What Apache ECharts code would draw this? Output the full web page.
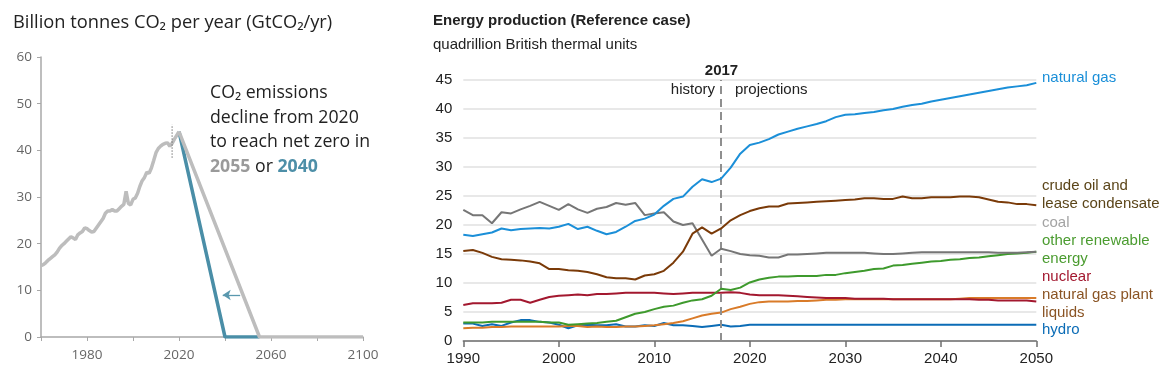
<!DOCTYPE html>
<html><head><meta charset="utf-8">
<script src="https://cdn.jsdelivr.net/npm/echarts@6/dist/echarts.min.js"></script>
<style>html,body{margin:0;padding:0;background:#fff}#c{width:1170px;height:384px}</style>
</head><body><div id="c"></div>
<script>
// ---------- Left panel: CO2 emissions ----------
const emissionYears = [];
for (let y = 1960; y <= 2020; y++) emissionYears.push(y);
const emissionValues = [
  15.3, 15.5, 15.9, 16.4, 16.8, 17.2, 17.6, 18.2, 19.0, 19.6,
  20.0, 20.5, 21.0, 21.5, 21.2, 20.9, 21.9, 22.3, 22.6, 23.4,
  23.2, 22.8, 22.5, 22.6, 23.3, 24.0, 24.7, 25.4, 26.5, 27.0,
  27.0, 27.3, 27.0, 27.0, 27.5, 28.0, 28.4, 31.2, 28.6, 28.3,
  29.5, 29.8, 30.8, 32.3, 33.5, 34.2, 35.3, 35.1, 36.2, 37.8,
  39.5, 40.4, 40.9, 41.3, 41.5, 41.6, 40.9, 41.5, 42.4, 43.2,
  44.0
];
const pathway2055 = [[2020, 44.0], [2055, 0], [2100, 0]];
const pathway2040 = [[2020, 44.0], [2040, 0], [2055, 0]];
const markerLine2017 = [[2017, 38.4], [2017, 45.5]];
const arrowFrom = [2046.6, 9];
const arrowTo = [2039, 9];

// ---------- Right panel: Energy production ----------
const energyYears = [];
for (let y = 1990; y <= 2050; y++) energyYears.push(y);
const naturalGas = [
  18.3, 18.1, 18.4, 18.7, 19.4, 19.1, 19.3, 19.4, 19.5, 19.4,
  19.7, 20.2, 19.3, 19.7, 19.0, 18.4, 18.8, 19.7, 20.7, 21.1,
  21.8, 23.3, 24.5, 24.9, 26.6, 27.9, 27.4, 28.0, 29.9, 32.3,
  33.8, 34.2, 34.8, 35.6, 36.1, 36.6, 37.0, 37.4, 37.9, 38.6,
  39.0, 39.1, 39.3, 39.5, 39.8, 40.0, 40.4, 40.7, 40.9, 41.3,
  41.6, 41.9, 42.2, 42.5, 42.8, 43.1, 43.4, 43.7, 43.9, 44.1, 44.5
];
const crudeOil = [
  15.5, 15.7, 15.2, 14.5, 14.1, 14.0, 13.9, 13.7, 13.4, 12.4,
  12.4, 12.2, 12.1, 11.9, 11.5, 11.0, 10.8, 10.8, 10.6, 11.3,
  11.5, 12.1, 13.5, 15.4, 18.5, 19.6, 18.5, 19.4, 20.8, 21.7,
  22.4, 22.9, 23.2, 23.2, 23.7, 23.8, 23.9, 24.0, 24.1, 24.2,
  24.3, 24.4, 24.6, 24.6, 24.5, 24.5, 24.9, 24.6, 24.6, 24.8,
  24.8, 24.8, 24.9, 24.9, 24.8, 24.4, 24.0, 23.9, 23.6, 23.6, 23.4
];
const coal = [
  22.6, 21.7, 21.7, 20.3, 22.2, 22.0, 22.7, 23.3, 24.0, 23.3,
  22.6, 23.6, 22.7, 22.1, 22.8, 23.1, 23.8, 23.5, 23.8, 21.7,
  22.0, 22.2, 20.6, 20.0, 20.3, 17.5, 14.7, 15.9, 15.5, 15.0,
  14.8, 14.7, 14.4, 14.4, 14.9, 14.9, 15.0, 15.1, 15.2, 15.2,
  15.2, 15.2, 15.2, 15.1, 15.0, 15.0, 15.1, 15.2, 15.3, 15.3,
  15.3, 15.3, 15.3, 15.3, 15.3, 15.3, 15.2, 15.2, 15.2, 15.3, 15.4
];
const otherRenewable = [
  3.2, 3.2, 3.2, 3.3, 3.3, 3.3, 3.3, 3.3, 3.3, 3.2,
  3.2, 2.8, 2.9, 3.0, 3.1, 3.3, 3.5, 4.1, 4.7, 5.0,
  5.5, 5.9, 6.1, 6.6, 7.0, 7.2, 7.8, 9.0, 8.8, 9.2,
  10.1, 10.6, 10.9, 11.1, 11.1, 11.2, 11.2, 11.2, 11.4, 11.4,
  11.7, 11.9, 12.1, 12.4, 12.5, 13.0, 13.1, 13.3, 13.5, 13.7,
  13.8, 14.0, 14.1, 14.3, 14.4, 14.6, 14.8, 15.0, 15.1, 15.2, 15.4
];
const nuclear = [
  6.2, 6.5, 6.5, 6.5, 6.6, 7.1, 7.1, 6.6, 7.1, 7.6,
  7.8, 7.9, 8.0, 7.9, 8.1, 8.1, 8.2, 8.3, 8.3, 8.3,
  8.3, 8.2, 8.1, 8.2, 8.3, 8.3, 8.3, 8.3, 8.4, 8.3,
  8.0, 7.9, 7.9, 7.9, 7.8, 7.7, 7.6, 7.5, 7.4, 7.4,
  7.4, 7.3, 7.3, 7.3, 7.3, 7.2, 7.2, 7.2, 7.2, 7.2,
  7.2, 7.2, 7.2, 7.2, 7.1, 7.1, 7.0, 7.0, 7.0, 7.0, 6.8
];
const ngPlantLiquids = [
  2.2, 2.3, 2.3, 2.4, 2.4, 2.5, 2.5, 2.5, 2.5, 2.5,
  2.5, 2.6, 2.6, 2.4, 2.5, 2.4, 2.4, 2.5, 2.5, 2.6,
  2.7, 2.9, 3.1, 3.4, 3.9, 4.4, 4.7, 4.9, 5.5, 5.9,
  6.4, 6.7, 6.8, 6.8, 6.8, 6.9, 6.9, 7.0, 7.1, 7.1,
  7.2, 7.2, 7.2, 7.2, 7.2, 7.2, 7.2, 7.2, 7.2, 7.2,
  7.2, 7.2, 7.3, 7.4, 7.4, 7.4, 7.4, 7.4, 7.4, 7.4, 7.4
];
const hydro = [
  3.0, 3.0, 2.6, 2.9, 2.6, 3.2, 3.6, 3.6, 3.3, 3.2,
  2.8, 2.2, 2.7, 2.8, 2.7, 2.7, 2.9, 2.5, 2.5, 2.7,
  2.6, 3.1, 2.7, 2.7, 2.6, 2.4, 2.6, 2.8, 2.5, 2.6,
  2.8, 2.8, 2.8, 2.8, 2.8, 2.8, 2.8, 2.8, 2.8, 2.8,
  2.8, 2.8, 2.8, 2.8, 2.8, 2.8, 2.8, 2.8, 2.8, 2.8,
  2.8, 2.8, 2.8, 2.8, 2.8, 2.8, 2.8, 2.8, 2.8, 2.8, 2.8
];
const dividerYear = 2017;

const leftXTicks = { min: 1960, max: 2100, interval: 20 };
const leftYTicks = { min: 0, max: 60, interval: 10 };
const rightXTicks = { min: 1990, max: 2050, interval: 10 };
const rightYTicks = { min: 0, max: 45, interval: 5 };

const energySeries = [
  { name: 'hydro', values: hydro, color: '#0b6cb6', label: ['hydro'], labelColor: '#0b6cb6', labelY: [330] },
  { name: 'natural gas plant liquids', values: ngPlantLiquids, color: '#d97b29', label: ['natural gas plant', 'liquids'], labelColor: '#8a5424', labelY: [295, 313] },
  { name: 'nuclear', values: nuclear, color: '#a3182f', label: ['nuclear'], labelColor: '#a3182f', labelY: [277] },
  { name: 'other renewable energy', values: otherRenewable, color: '#3e9a2d', label: ['other renewable', 'energy'], labelColor: '#4b9c30', labelY: [241, 259] },
  { name: 'coal', values: coal, color: '#767676', label: ['coal'], labelColor: '#a3a3a3', labelY: [223] },
  { name: 'crude oil and lease condensate', values: crudeOil, color: '#7a3a08', label: ['crude oil and', 'lease condensate'], labelColor: '#5b4519', labelY: [186, 204] },
  { name: 'natural gas', values: naturalGas, color: '#1b8fd8', label: ['natural gas'], labelColor: '#1b8fd8', labelY: [78] }
];

const chart = echarts.init(document.getElementById('c'), null, { renderer: 'canvas' });
const leftFont = '"Open Sans", "Noto Sans", sans-serif';
const rightFont = '"Liberation Sans", Arial, sans-serif';

const graphics = [
  { type: 'text', left: 13, top: 14, style: { text: 'Billion tonnes CO₂ per year (GtCO₂/yr)', font: '18.3px ' + leftFont, fill: '#222' } },
  { type: 'text', left: 210, top: 81, style: {
      text: 'CO₂ emissions\ndecline from 2020\nto reach net zero in\n{g|2055} or {b|2040}',
      font: '17.7px ' + leftFont, fill: '#222', lineHeight: 24.5,
      rich: { g: { font: 'bold 17.7px ' + leftFont, fill: '#9a9a9a', lineHeight: 24.5 }, b: { font: 'bold 17.7px ' + leftFont, fill: '#4d8fa8', lineHeight: 24.5 } }
  } },
  { type: 'text', left: 433, top: 13, style: { text: 'Energy production (Reference case)', font: 'bold 15px ' + rightFont, fill: '#222' } },
  { type: 'text', left: 433, top: 37, style: { text: 'quadrillion British thermal units', font: '15px ' + rightFont, fill: '#222' } },
  { type: 'text', x: 721.5, y: 71, style: { text: String(dividerYear), font: 'bold 15px ' + rightFont, fill: '#222', align: 'center', verticalAlign: 'middle' } },
  { type: 'text', x: 715, y: 90, style: { text: 'history', font: '15px ' + rightFont, fill: '#222', align: 'right', verticalAlign: 'middle' } },
  { type: 'text', x: 735, y: 90, style: { text: 'projections', font: '15px ' + rightFont, fill: '#222', align: 'left', verticalAlign: 'middle' } }
];
energySeries.forEach(s => {
  s.label.forEach((t, i) => {
    graphics.push({ type: 'text', x: 1042, y: s.labelY[i], style: { text: t, font: '15px ' + rightFont, fill: s.labelColor, align: 'left', verticalAlign: 'middle' } });
  });
});

const series = [
  { type: 'line', xAxisIndex: 0, yAxisIndex: 0, data: pathway2040, symbol: 'none', lineStyle: { color: '#4a8ea7', width: 3.5 }, z: 2, silent: true,
    markLine: { silent: true, symbol: ['none', 'arrow'], symbolSize: 8, label: { show: false },
      lineStyle: { color: '#5a98ae', width: 1.3, type: 'solid' }, emphasis: { disabled: true },
      data: [[{ coord: arrowFrom }, { coord: arrowTo }]] } },
  { type: 'line', xAxisIndex: 0, yAxisIndex: 0, data: pathway2055, symbol: 'none', lineStyle: { color: '#bdbdbd', width: 3.5 }, z: 3, silent: true },
  { type: 'line', xAxisIndex: 0, yAxisIndex: 0, data: emissionYears.map((y, i) => [y, emissionValues[i]]), symbol: 'none', lineStyle: { color: '#bdbdbd', width: 3.5 }, z: 4, silent: true },
  { type: 'line', xAxisIndex: 0, yAxisIndex: 0, data: markerLine2017, symbol: 'none', lineStyle: { color: '#777', width: 1, type: [1.5, 1.5] }, z: 5, silent: true }
];
energySeries.forEach((s, k) => {
  series.push({
    type: 'line', name: s.name, xAxisIndex: 1, yAxisIndex: 1,
    data: energyYears.map((y, i) => [y, s.values[i]]),
    symbol: 'none', lineStyle: { color: s.color, width: 2 }, z: 3 + k, silent: true,
    markLine: k === 0 ? { silent: true, symbol: 'none', label: { show: false },
      lineStyle: { color: '#8f8f8f', width: 2, type: [8, 5] },
      data: [{ xAxis: dividerYear }] } : undefined
  });
});

chart.setOption({
  animation: false,
  backgroundColor: '#fff',
  grid: [
    { left: 41, right: 1170 - 363, top: 57, bottom: 384 - 337, containLabel: false },
    { left: 463.3, right: 1170 - 1036.3, top: 80, bottom: 384 - 341, containLabel: false }
  ],
  xAxis: [
    { type: 'value', gridIndex: 0, min: leftXTicks.min, max: leftXTicks.max, interval: leftXTicks.interval,
      axisLine: { lineStyle: { color: '#a8a8a8', width: 1.5 } },
      axisTick: { show: true, length: 4, lineStyle: { color: '#a8a8a8', width: 1 } },
      axisLabel: { color: '#666', fontSize: 13.5, fontFamily: leftFont, margin: 11,
        formatter: v => ((v - 1980) % 40 === 0 ? String(v) : '') },
      splitLine: { show: false } },
    { type: 'value', gridIndex: 1, min: rightXTicks.min, max: rightXTicks.max, interval: rightXTicks.interval,
      axisLine: { lineStyle: { color: '#6f6f6f', width: 1.5 } },
      axisTick: { show: true, length: 6, lineStyle: { color: '#6f6f6f', width: 1.5 } },
      axisLabel: { color: '#222', fontSize: 15, fontFamily: rightFont, margin: 10, formatter: v => String(v) },
      splitLine: { show: false } }
  ],
  yAxis: [
    { type: 'value', gridIndex: 0, min: leftYTicks.min, max: leftYTicks.max, interval: leftYTicks.interval,
      axisLine: { show: true, lineStyle: { color: '#a8a8a8', width: 1.5 } },
      axisTick: { show: true, length: 4, lineStyle: { color: '#a8a8a8', width: 1 } },
      axisLabel: { color: '#666', fontSize: 13.5, fontFamily: leftFont, margin: 9 },
      splitLine: { show: false } },
    { type: 'value', gridIndex: 1, min: rightYTicks.min, max: rightYTicks.max, interval: rightYTicks.interval,
      axisLine: { show: false }, axisTick: { show: false },
      axisLabel: { color: '#222', fontSize: 15, fontFamily: rightFont, margin: 11 },
      splitLine: { show: true, lineStyle: { color: '#e0e0e0', width: 1.5 } } }
  ],
  graphic: graphics,
  series: series
});
</script>
</body></html>
